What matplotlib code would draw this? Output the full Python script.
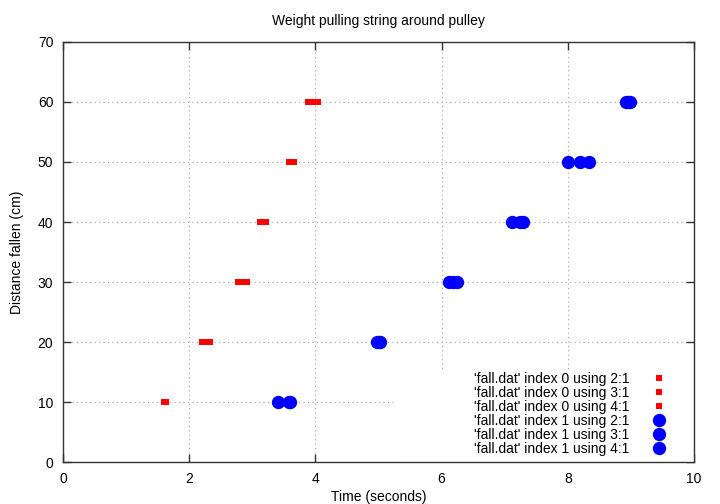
import matplotlib.pyplot as plt
import matplotlib
from matplotlib.patches import Rectangle

matplotlib.rcParams['font.family'] = ['Liberation Sans', 'DejaVu Sans']

distance = [10, 20, 30, 40, 50, 60]

# index 0 of fall.dat (columns 2, 3, 4)
fall0_c2 = [1.60, 2.21, 2.78, 3.12, 3.58, 3.88]
fall0_c3 = [1.62, 2.27, 2.85, 3.17, 3.62, 3.96]
fall0_c4 = [1.64, 2.33, 2.91, 3.22, 3.66, 4.04]

# index 1 of fall.dat (columns 2, 3, 4)
fall1_c2 = [3.41, 4.98, 6.12, 7.12, 8.01, 8.93]
fall1_c3 = [3.58, 5.01, 6.18, 7.29, 8.20, 8.96]
fall1_c4 = [3.60, 5.03, 6.25, 7.25, 8.33, 8.99]

fig = plt.figure(figsize=(7.2, 5.04), dpi=100)
ax = fig.add_axes([63 / 720, 42 / 504, 631 / 720, 420 / 504])

for col, t in zip([2, 3, 4], [fall0_c2, fall0_c3, fall0_c4]):
    ax.plot(t, distance, linestyle='none', marker='s', markersize=4.6,
            color='#ff0000', markeredgewidth=0, zorder=3,
            label=f"'fall.dat' index 0 using {col}:1")
for col, t in zip([2, 3, 4], [fall1_c2, fall1_c3, fall1_c4]):
    ax.plot(t, distance, linestyle='none', marker='o', markersize=9.6,
            color='#0000ff', markeredgewidth=0, zorder=3,
            label=f"'fall.dat' index 1 using {col}:1")

ax.set_xlim(0, 10)
ax.set_ylim(0, 70)
ax.set_xticks(range(0, 11, 2))
ax.set_yticks(range(0, 71, 10))
ax.tick_params(direction='in', top=True, right=True, length=6, width=1,
               labelsize=10, pad=7, color='#333333')
for s in ax.spines.values():
    s.set_color('#333333')
    s.set_linewidth(1)
ax.grid(True, linestyle=(0, (1, 3)), color='#a0a0a0', linewidth=0.8)
ax.set_axisbelow(True)

# white key background, like gnuplot's opaque key
ax.add_patch(Rectangle((332 / 631, 0), 1 - 332 / 631, 90 / 420,
                       transform=ax.transAxes, facecolor='white',
                       edgecolor='none', zorder=1))

ax.set_title('Weight pulling string around pulley', fontsize=10, pad=12)
ax.set_xlabel('Time (seconds)', fontsize=10, labelpad=3)
ax.set_ylabel('Distance fallen (cm)', fontsize=10, labelpad=10)

leg = ax.legend(loc='lower right', bbox_to_anchor=(603 / 631, 6 / 420),
                markerfirst=False, fontsize=10, frameon=False,
                labelspacing=0.0, handlelength=1.0, handletextpad=1.65,
                borderpad=0, borderaxespad=0)

plt.savefig('out.png', dpi=100, facecolor='white')
plt.close()
